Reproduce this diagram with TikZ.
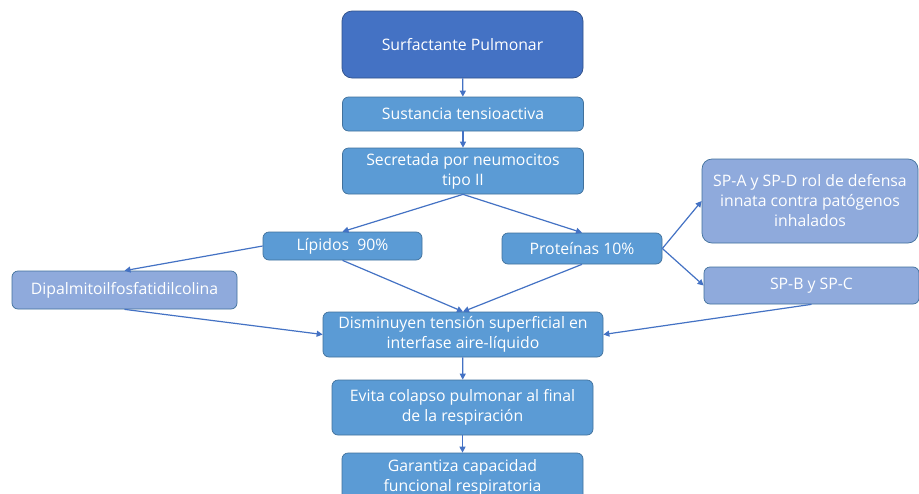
\documentclass[tikz,border=0pt]{standalone}
\usepackage{fontspec}
\setmainfont{Open Sans}
\usetikzlibrary{arrows.meta}
\definecolor{surfdark}{HTML}{4472C4}
\definecolor{surfmid}{HTML}{5B9BD5}
\definecolor{surflight}{HTML}{8FAADC}
\definecolor{surfline}{HTML}{41719C}
\begin{document}
\begin{tikzpicture}[x=1pt, y=-1pt, font=\fontsize{15.8}{20}\selectfont,
  box/.style={draw=surfline, line width=0.7pt, fill=surfmid, text=white, rounded corners=6pt,
              inner sep=0pt, align=center},
  arrow/.style={-{Triangle[length=6pt, width=6pt]}, surfdark, line width=1.2pt}]
  \clip (0,0) rectangle (919,493);
  \fill[white] (0,0) rectangle (919,493);

  \node[box, fill=surfdark, draw=surfdark!70!black, rounded corners=10pt,
        minimum width=241pt, minimum height=67pt] (surf) at (462.5,44.5) {Surfactante Pulmonar};
  \node[box, minimum width=241pt, minimum height=34pt] (sust) at (463,114) {Sustancia tensioactiva};
  \node[box, minimum width=241pt, minimum height=46pt] (secr) at (463,171) {Secretada por neumocitos\\tipo II};
  \node[box, minimum width=159pt, minimum height=28pt] (lip) at (342.5,246) {Lípidos\ \ 90\%};
  \node[box, minimum width=160pt, minimum height=31pt] (prot) at (582,248.5) {Proteínas 10\%};
  \node[box, fill=surflight, minimum width=225pt, minimum height=38pt] (dipal) at (124.5,290) {Dipalmitoilfosfatidilcolina};
  \node[box, fill=surflight, rounded corners=10pt, minimum width=216pt, minimum height=84pt]
    (spad) at (810,201) {SP-A y SP-D rol de defensa\\innata contra patógenos\\inhalados};
  \node[box, fill=surflight, minimum width=215pt, minimum height=37pt] (spbc) at (811.5,285.5) {SP-B y SP-C};
  \node[box, minimum width=280pt, minimum height=45pt] (dism) at (463,334.5) {Disminuyen tensión superficial en\\interfase aire-líquido};
  \node[box, minimum width=261pt, minimum height=55pt] (evita) at (462.5,407.5) {Evita colapso pulmonar al final\\de la respiración};
  \node[box, minimum width=241pt, minimum height=48pt] (garant) at (462.5,477) {Garantiza capacidad\\funcional respiratoria};

  % vertical chain
  \draw[arrow] (surf) -- (sust);
  \draw[arrow] (sust) -- (secr);
  \draw[arrow] (secr.south) -- (lip.north);
  \draw[arrow] (secr.south) -- (prot.north);
  \draw[arrow] (lip.west) -- (dipal.north);
  \draw[arrow] (prot.east) -- (spad.west);
  \draw[arrow] (prot.east) -- (spbc.west);
  \draw[arrow] (lip.south) -- (dism.north);
  \draw[arrow] (prot.south) -- (dism.north);
  \draw[arrow] (dipal.south) -- (dism.west);
  \draw[arrow] (spbc.south) -- (dism.east);
  \draw[arrow] (dism) -- (evita);
  \draw[arrow] (evita) -- (garant);
\end{tikzpicture}
\end{document}
